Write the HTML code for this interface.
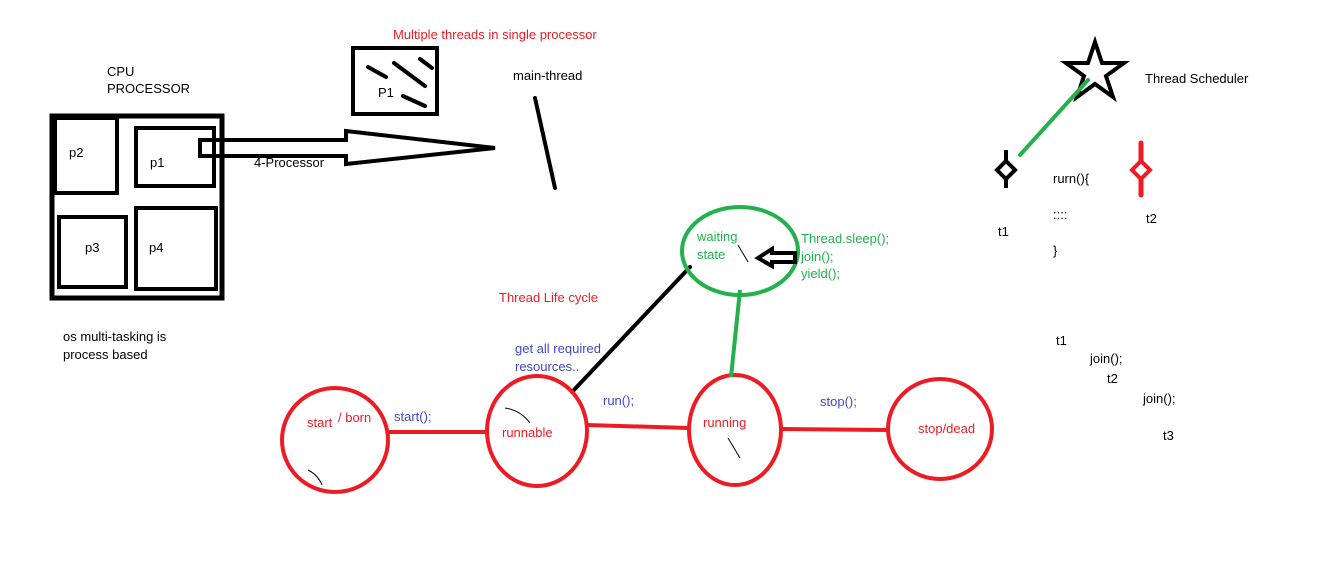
<!DOCTYPE html>
<html><head><meta charset="utf-8"><style>
html,body{margin:0;padding:0;background:#fff;width:1330px;height:574px;overflow:hidden}
svg text{font-family:"Liberation Sans",sans-serif;font-size:13px}
</style></head><body>
<svg width="1330" height="574" viewBox="0 0 1330 574" xmlns="http://www.w3.org/2000/svg">
<g fill="none" stroke="#000" stroke-width="4">
<rect x="52" y="116" width="170" height="182" stroke-width="5"/>
<rect x="55" y="118" width="62" height="75"/>
<rect x="136" y="128" width="78" height="58"/>
<rect x="59" y="217" width="67" height="70"/>
<rect x="136" y="208" width="80" height="81"/>
<path d="M200 140 H346 V131 L495 148 L346 164 V156 H200 Z"/>
<rect x="353" y="48" width="84" height="66"/>
</g>
<g stroke="#000" stroke-width="4" stroke-linecap="round">
<line x1="368" y1="67" x2="386" y2="77"/>
<line x1="394" y1="63" x2="425" y2="86"/>
<line x1="420" y1="59" x2="432" y2="68"/>
<line x1="403" y1="96" x2="425" y2="106"/>
<line x1="535" y1="98" x2="555" y2="188"/>
<line x1="572" y1="392" x2="690" y2="267"/>
</g>
<g fill="none" stroke="#ed1c24" stroke-width="4">
<ellipse cx="335" cy="440" rx="53" ry="52"/>
<ellipse cx="537" cy="431" rx="50" ry="55"/>
<ellipse cx="735" cy="430" rx="46" ry="55"/>
<ellipse cx="940" cy="429" rx="52" ry="50"/>
<path d="M388 432 H487 M587 425 L689 428 M781 429 L888 430"/>
</g>
<ellipse cx="740" cy="251" rx="58" ry="44" fill="none" stroke="#22b14c" stroke-width="4"/>
<line x1="740" y1="290" x2="731" y2="377" stroke="#22b14c" stroke-width="4"/>
<path d="M795 253 H772 V249 L758 258 L772 266 V262 H795 Z" fill="none" stroke="#000" stroke-width="4"/>
<g stroke="#000" stroke-width="1" fill="none">
<path d="M738 245 L748 262"/><path d="M505 408 Q520 410 530 423"/><path d="M308 470 Q318 475 322 485"/><path d="M728 438 L740 458"/>
</g>
<path d="M1095 42 L1102 63 L1124 63 L1106 76 L1113 97 L1095 84 L1077 97 L1084 76 L1066 63 L1088 63 Z" fill="none" stroke="#000" stroke-width="4"/>
<line x1="1020" y1="155" x2="1088" y2="80" stroke="#22b14c" stroke-width="4" stroke-linecap="round"/>
<line x1="1006" y1="150" x2="1006" y2="188" stroke="#000" stroke-width="4"/>
<path d="M1006 161 L1015 170 L1006 179 L997 170 Z" fill="#fff" stroke="#000" stroke-width="4"/>
<line x1="1141" y1="143" x2="1141" y2="195" stroke="#ed1c24" stroke-width="5" stroke-linecap="round"/>
<path d="M1141 161 L1150 170 L1141 179 L1132 170 Z" fill="#fff" stroke="#ed1c24" stroke-width="4"/>
<g fill="#000">
<text x="107" y="76">CPU</text><text x="107" y="93">PROCESSOR</text>
<text x="69" y="157">p2</text><text x="150" y="167">p1</text>
<text x="85" y="252">p3</text><text x="149" y="252">p4</text>
<text x="254" y="167">4-Processor</text><text x="378" y="97">P1</text>
<text x="513" y="80">main-thread</text>
<text x="63" y="341">os multi-tasking is</text><text x="63" y="359">process based</text>
<text x="1145" y="83">Thread Scheduler</text>
<text x="998" y="236">t1</text><text x="1146" y="223">t2</text>
<text x="1053" y="183">rurn(){</text><text x="1053" y="219">::::</text><text x="1053" y="255">}</text>
<text x="1056" y="345">t1</text><text x="1090" y="363">join();</text><text x="1107" y="383">t2</text>
<text x="1143" y="403">join();</text><text x="1163" y="440">t3</text>
</g>
<g fill="#ed1c24">
<text x="393" y="39">Multiple threads in single processor</text>
<text x="499" y="302">Thread Life cycle</text>
<text x="307" y="427">start</text><text x="338" y="422">/ born</text>
<text x="502" y="437">runnable</text><text x="703" y="427">running</text>
<text x="918" y="433">stop/dead</text>
</g>
<g fill="#3f48cc">
<text x="394" y="421">start();</text><text x="603" y="405">run();</text><text x="820" y="406">stop();</text>
<text x="515" y="353">get all required</text><text x="515" y="371">resources..</text>
</g>
<g fill="#22b14c">
<text x="697" y="241">waiting</text><text x="697" y="259">state</text>
<text x="801" y="243">Thread.sleep();</text><text x="801" y="261">join();</text><text x="801" y="278">yield();</text>
</g>
</svg>
</body></html>
